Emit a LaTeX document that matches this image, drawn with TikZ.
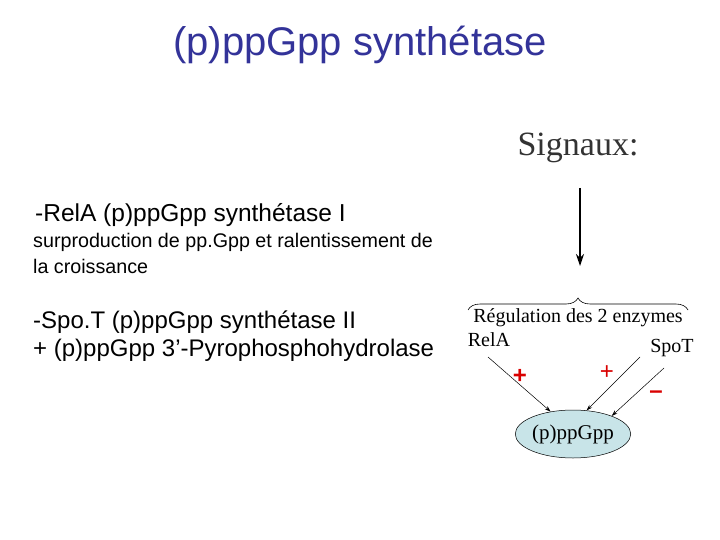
\documentclass[tikz,border=0pt]{standalone}
\usepackage{fontspec}
\setmainfont{Liberation Serif}
\newfontfamily\arial{Liberation Sans}
\usetikzlibrary{arrows.meta,decorations.pathreplacing,shapes.geometric}
\definecolor{titleblue}{HTML}{333399}
\definecolor{ellfill}{HTML}{C8E4E8}
\tikzset{
  sans/.style={font=\arial\fontsize{#1}{#1}\selectfont, anchor=west, inner sep=0},
  ser/.style={font=\fontsize{#1}{#1}\selectfont, inner sep=0},
  thin/.style={-{Stealth[length=6pt,width=4pt]}, line width=0.5pt},
  sign/.style={text=red!85!black, font=\arial\bfseries\fontsize{24}{24}\selectfont, inner sep=0}
}
\begin{document}
\begin{tikzpicture}[x=1pt,y=-1pt]
\useasboundingbox (0,0) rectangle (720,540);
\node[font=\arial\fontsize{40}{40}\selectfont, text=titleblue, inner sep=0] (title) at (360,45) {(p)ppGpp synthétase};
\node[sans=24.5] (l1) at (35,215) {-RelA (p)ppGpp synthétase I};
\node[sans=19.7] (l2) at (33,242) {surproduction de pp.Gpp et ralentissement de};
\node[sans=19.7] (l3) at (33,266) {la croissance};
\node[sans=24] (l4) at (33,322) {-Spo.T (p)ppGpp synthétase II};
\node[sans=24] (l5) at (33,350) {+ (p)ppGpp 3’-Pyrophosphohydrolase};
\node[ser=34, text=black!80] (sig) at (578,148) {Signaux:};
\coordinate (a1) at (580,188);
\coordinate (a2) at (580,266);
\draw[-{Stealth[length=12pt,width=8pt]}, line width=1.2pt] (a1) -- (a2);
\coordinate (b1) at (468,310);
\coordinate (b2) at (688,310);
\draw[decorate, decoration={brace, amplitude=12pt}, line width=0.6pt] (b1) -- (b2);
\node[ser=20] (reg) at (578,318) {Régulation des 2 enzymes};
\node[ser=20] (rela) at (489,340) {RelA};
\node[ser=20] (spot) at (672,348) {SpoT};
\node[ellipse, draw, fill=ellfill, minimum width=102, minimum height=48, ser=21, line width=0.5pt] (pp) at (573,434) {(p)ppGpp};
\coordinate (s1) at (488,357);
\coordinate (s2) at (640,357);
\coordinate (s3) at (664,368);
\draw[thin] (s1) -- (pp.135);
\draw[thin] (s2) -- (pp.60);
\draw[thin] (s3) -- (pp.25);
\node[sign] (p1) at (520,376) {+};
\node[sign, font=\arial\fontsize{24}{24}\selectfont] (p2) at (607,373) {+};
\node[sign] (m1) at (656,395) {–};
\end{tikzpicture}
\end{document}
